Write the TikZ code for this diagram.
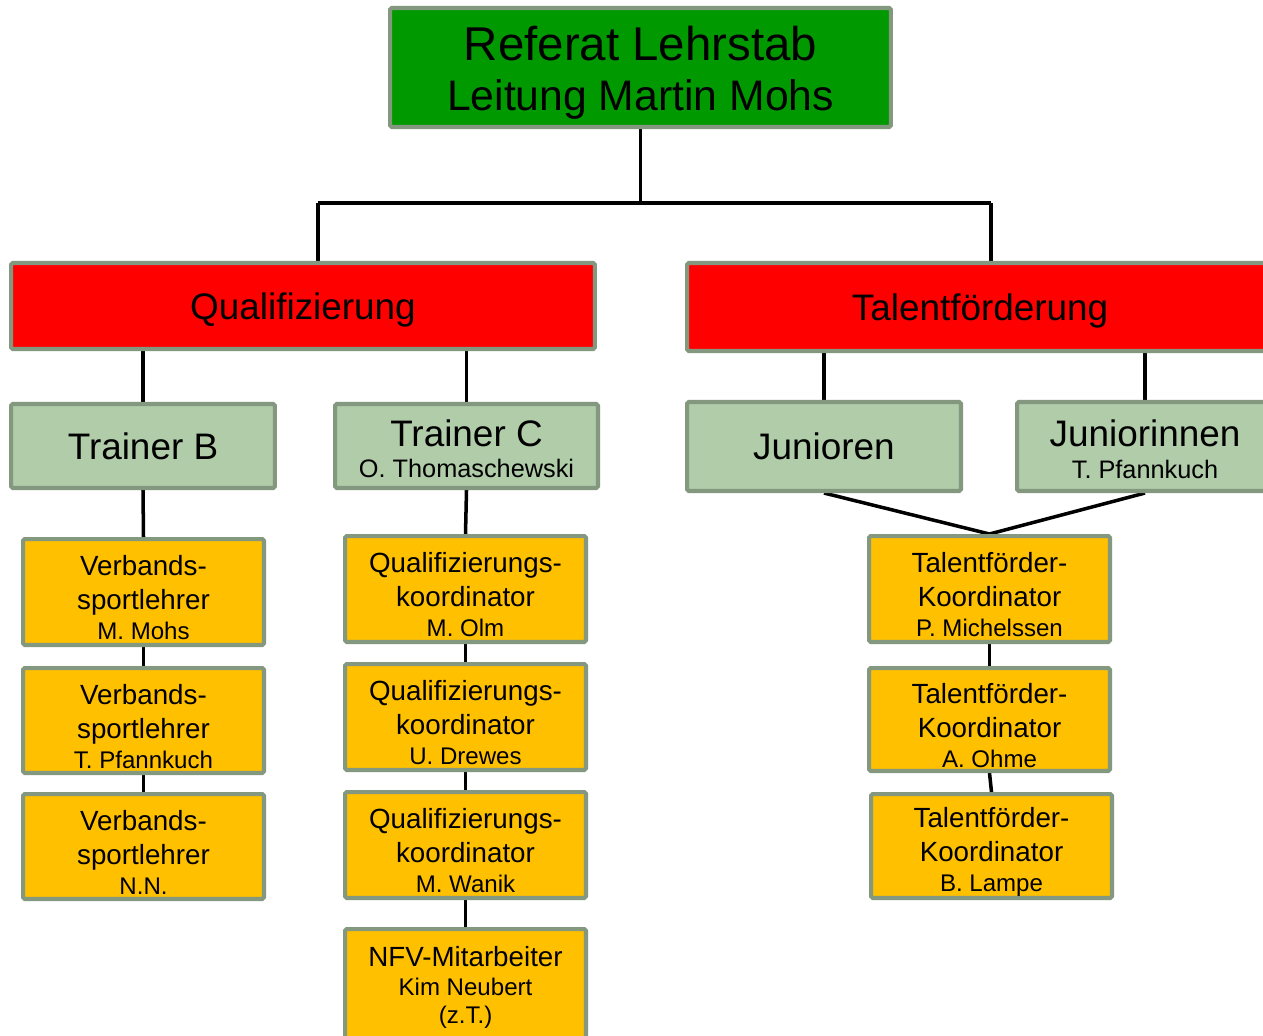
\documentclass[tikz,border=0pt]{standalone}
\usepackage{fontspec}
\setmainfont{Liberation Sans}
\usetikzlibrary{backgrounds}

\definecolor{boxline}{HTML}{84977F}
\definecolor{headgreen}{HTML}{009900}
\definecolor{areared}{HTML}{FF0000}
\definecolor{teamgreen}{HTML}{B0CCA9}
\definecolor{staffyellow}{HTML}{FFC000}

\tikzset{
  box/.style={draw=boxline, line width=2.3pt, rounded corners=1pt, align=center, inner sep=0pt, text=black},
  headbox/.style={box, fill=headgreen, minimum width=10.02cm, minimum height=2.38cm, font=\fontsize{27pt}{28.5pt}\selectfont},
  areabox/.style={box, fill=areared, minimum height=1.72cm, text depth=0pt, font=\fontsize{21pt}{24pt}\selectfont},
  teambox/.style={box, fill=teamgreen, minimum height=1.68cm, font=\fontsize{21pt}{17.8pt}\selectfont},
  staffbox/.style={box, fill=staffyellow, minimum width=4.82cm, minimum height=2.12cm, font=\fontsize{15.8pt}{19.4pt}\selectfont},
  link/.style={line width=2pt, black},
}
% small name line
\newcommand{\who}[1]{{\fontsize{13.7pt}{17pt}\selectfont #1}}
\newcommand{\whoT}[1]{{\fontsize{14.4pt}{17pt}\selectfont #1}}
% three line staff box text
\newcommand{\staff}[3]{\rule{0pt}{18pt}#1\\#2\\[-2.4pt]\who{#3}}

\begin{document}
\begin{tikzpicture}[x=0.02cm, y=-0.02cm]
    % page
    \useasboundingbox (0,0) rectangle (1263,1035);
    \begin{pgfonlayer}{background}
    \fill[white] (0,0) rectangle (1263,1035);
    \end{pgfonlayer}

    % Head
    \node[headbox] (top) at (640.5,67.5) {\rule{0pt}{25.5pt}Referat Lehrstab\\{\fontsize{24.3pt}{28.5pt}\selectfont Leitung Martin Mohs}};

    % Two areas
    \node[areabox, minimum width=11.68cm] (qual) at (303,306) {Qualifizierung};
    \node[areabox, minimum width=11.72cm, minimum height=1.76cm] (talent) at (980,307) {Talentförderung};

    % Teams
    \node[teambox, minimum width=5.28cm] (trainerB) at (143,446) {Trainer B};
    \node[teambox, minimum width=5.26cm] (trainerC) at (466.5,446) {\rule{0pt}{18pt}Trainer C\\\whoT{O. Thomaschewski}};
    \node[teambox, minimum width=5.48cm, minimum height=1.78cm] (junioren) at (824,446.5) {Junioren};
    \node[teambox, minimum width=5.12cm, minimum height=1.78cm] (juniorinnen) at (1145,446.5) {\rule{0pt}{18pt}Juniorinnen\\[0.3pt]\whoT{T. Pfannkuch}};

    % Verbandssportlehrer
    \node[staffbox] (vsl1) at (143.5,592) {\staff{Verbands-}{sportlehrer}{M. Mohs}};
    \node[staffbox, minimum height=2.10cm] (vsl2) at (143.5,720.5) {\staff{Verbands-}{sportlehrer}{T. Pfannkuch}};
    \node[staffbox, minimum height=2.10cm] (vsl3) at (143.5,846.5) {\staff{Verbands-}{sportlehrer}{N.N.}};

    % Qualifizierungskoordinatoren
    \node[staffbox] (qk1) at (465.5,589) {\staff{Qualifizierungs-}{koordinator}{M. Olm}};
    \node[staffbox] (qk2) at (465.5,717) {\staff{Qualifizierungs-}{koordinator}{U. Drewes}};
    \node[staffbox] (qk3) at (465.5,845) {\staff{Qualifizierungs-}{koordinator}{M. Wanik}};
    \node[staffbox, minimum height=2.32cm] (nfv) at (465.5,987) {NFV-Mitarbeiter\\[-2.9pt]\who{Kim Neubert}\\[-3.4pt]\who{(z.T.)}};

    % Talentfoerderkoordinatoren
    \node[staffbox] (tk1) at (989.5,589) {\staff{Talentförder-}{Koordinator}{P. Michelssen}};
    \node[staffbox, minimum height=2.06cm] (tk2) at (989.5,719.5) {\staff{Talentförder-}{Koordinator}{A. Ohme}};
    \node[staffbox, minimum height=2.08cm] (tk3) at (991.5,846) {\staff{Talentförder-}{Koordinator}{B. Lampe}};

    % Connectors, behind the boxes
    \begin{pgfonlayer}{background}
    \coordinate (busL) at (318,203);
    \coordinate (busR) at (991,203);
    \draw[link] (top.south) -- (top.south |- busL);
    \draw[link] (busL) -- (busR);
    \draw[link] (busL) -- (busL |- qual.north);
    \draw[link] (busR) -- (busR |- talent.north);
    \draw[link] (qual.south -| trainerB) -- (trainerB.north);
    \draw[link] (qual.south -| trainerC) -- (trainerC.north);
    \draw[link] (talent.south -| junioren) -- (junioren.north);
    \draw[link] (talent.south -| juniorinnen) -- (juniorinnen.north);
    \draw[link] (trainerB.south) -- (vsl1.north);
    \draw[link] (vsl1.south) -- (vsl2.north);
    \draw[link] (vsl2.south) -- (vsl3.north);
    \draw[link] (trainerC.south) -- (qk1.north);
    \draw[link] (qk1.south) -- (qk2.north);
    \draw[link] (qk2.south) -- (qk3.north);
    \draw[link] (qk3.south) -- (nfv.north);
    \draw[link] (junioren.south) -- (tk1.north);
    \draw[link] (juniorinnen.south) -- (tk1.north);
    \draw[link] (tk1.south) -- (tk2.north);
    \draw[link] (tk2.south) -- (tk3.north);
    \end{pgfonlayer}
\end{tikzpicture}
\end{document}
